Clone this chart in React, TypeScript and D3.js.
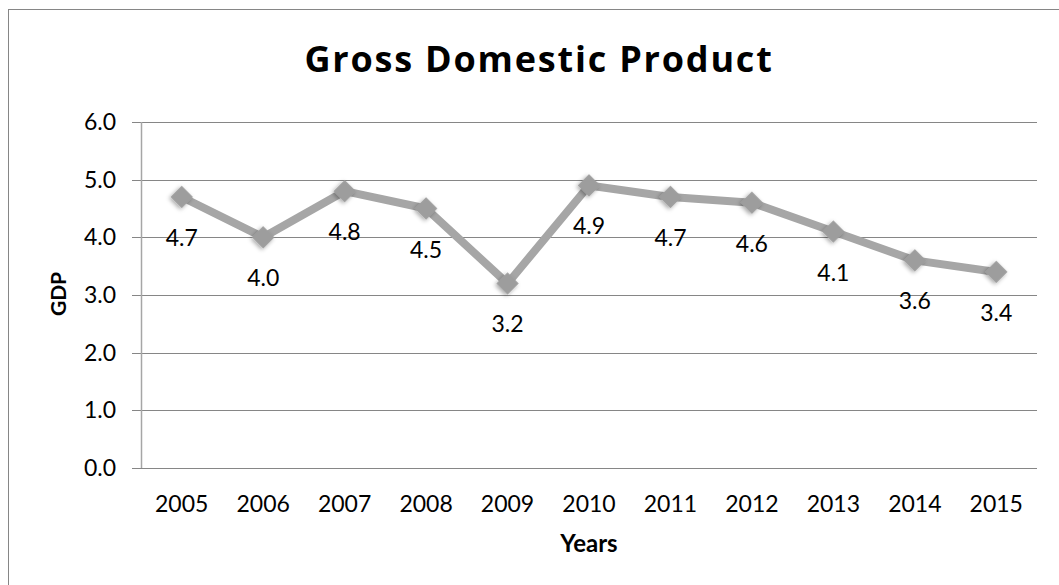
import React from "react";
import * as d3 from "d3";

const years = ["2005", "2006", "2007", "2008", "2009", "2010", "2011", "2012", "2013", "2014", "2015"];
const gdp = [4.7, 4.0, 4.8, 4.5, 3.2, 4.9, 4.7, 4.6, 4.1, 3.6, 3.4];
const yTicks = [0, 1, 2, 3, 4, 5, 6];

const W = 1059;
const H = 585;
const plot = { left: 141, right: 1037, top: 122, bottom: 468 };
const FONT = "Lato, 'Open Sans', sans-serif";
const TFONT = "'Open Sans', Lato, sans-serif";

export default function App() {
  const x = d3.scaleBand<string>().domain(years).range([plot.left, plot.right]).padding(0);
  const y = d3.scaleLinear().domain([0, 6]).range([plot.bottom, plot.top]);
  const cx = (d: string) => (x(d) ?? 0) + x.bandwidth() / 2;
  const pts: [number, number][] = years.map((yr, i) => [cx(yr), y(gdp[i])]);
  const line = d3.line()(pts) ?? "";
  const diamond = d3.symbol().type(d3.symbolSquare).size(250)() ?? "";

  return (
    <svg width={W} height={H} style={{ position: "absolute", left: 0, top: 0 }}>
      <defs>
        <filter id="sh" x="-50%" y="-50%" width="200%" height="200%">
          <feDropShadow dx="0" dy="2" stdDeviation="2" floodColor="#000" floodOpacity="0.35" />
        </filter>
      </defs>
      <rect x={0} y={0} width={W} height={H} fill="#fff" />
      <rect x={8.5} y={9.5} width={W + 10} height={H + 10} fill="none" stroke="#868686" strokeWidth={1} />
      <text x={539} y={72} textAnchor="middle" fontFamily={TFONT} fontWeight="bold" fontSize={36} letterSpacing={1.8} fill="#000">
        Gross Domestic Product
      </text>
      {yTicks.map((t) => (
        <g key={t}>
          <line x1={132} x2={plot.right} y1={Math.round(y(t)) + 0.5} y2={Math.round(y(t)) + 0.5} stroke="#868686" strokeWidth={1} />
          <text x={116} y={y(t) + 8} textAnchor="end" fontFamily={FONT} fontSize={23} fill="#000">
            {t.toFixed(1)}
          </text>
        </g>
      ))}
      <line x1={plot.left + 0.5} x2={plot.left + 0.5} y1={plot.top} y2={plot.bottom} stroke="#a6a6a6" strokeWidth={1.5} />
      {years.map((yr) => (
        <text key={yr} x={cx(yr)} y={512} textAnchor="middle" fontFamily={FONT} fontSize={23} fill="#000">
          {yr}
        </text>
      ))}
      <path d={line} fill="none" stroke="#a6a6a6" strokeWidth={8} strokeLinejoin="round" />
      {pts.map(([px, py], i) => (
        <path key={i} d={diamond} transform={`translate(${px},${py}) rotate(45)`} fill="#9d9d9d" filter="url(#sh)" />
      ))}
      {pts.map(([px, py], i) => (
        <text key={"l" + i} x={px} y={py + 49} textAnchor="middle" fontFamily={FONT} fontSize={23} fill="#000">
          {gdp[i].toFixed(1)}
        </text>
      ))}
      <text x={589} y={552} textAnchor="middle" fontFamily={FONT} fontWeight="bold" fontSize={24} fill="#000">
        Years
      </text>
      <text transform={`translate(66,294) rotate(-90)`} textAnchor="middle" fontFamily={FONT} fontWeight="bold" fontSize={21} fill="#000">
        GDP
      </text>
    </svg>
  );
}
